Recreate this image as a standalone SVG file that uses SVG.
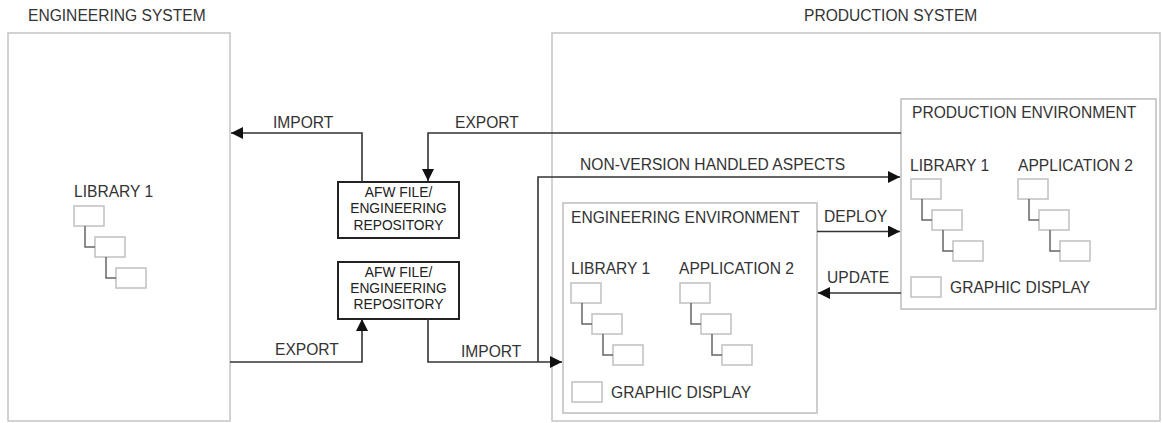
<svg xmlns="http://www.w3.org/2000/svg" width="1162" height="423" viewBox="0 0 1162 423">
<style>
text{font-family:"Liberation Sans",Arial,sans-serif;fill:#333;font-size:15.6px}
.small{font-size:13.8px;text-anchor:middle;fill:#222}
.frame{fill:none;stroke:#c4c4c4;stroke-width:1.5}
.env{fill:none;stroke:#bdbdbd;stroke-width:1.5}
.afw{fill:#fff;stroke:#222;stroke-width:2}
.sb{fill:#fff;stroke:#c0c0c0;stroke-width:1.5}
.tl{fill:none;stroke:#666;stroke-width:1.5}
.conn{fill:none;stroke:#333;stroke-width:1.6}
</style>
<defs>
<marker id="ah" viewBox="0 0 12 12" refX="12" refY="6" markerWidth="12" markerHeight="12" markerUnits="userSpaceOnUse" orient="auto">
<path d="M0,0 L12,6 L0,12 z" fill="#111"/>
</marker>
<g id="tree">
<rect class="sb" x="0" y="0" width="30" height="20"/>
<rect class="sb" x="21" y="31" width="30" height="20"/>
<rect class="sb" x="42" y="62" width="30" height="20"/>
<path class="tl" d="M11,20 V41 H21 M32,51 V72 H42"/>
</g>
</defs>
<g id="engineering-system">
<rect class="frame" x="8" y="33" width="222" height="388"/>
<text x="28" y="20.5">ENGINEERING SYSTEM</text>
<text x="74" y="196.5">LIBRARY 1</text>
<use href="#tree" x="74" y="206"/>
</g>
<g id="production-system">
<rect class="frame" x="552" y="33" width="608" height="388"/>
<text x="804" y="20.5">PRODUCTION SYSTEM</text>
</g>
<g id="production-environment">
<rect class="env" x="901" y="99" width="255" height="210" fill="#fff"/>
<text x="912" y="117.5">PRODUCTION ENVIRONMENT</text>
<text x="910" y="170.5">LIBRARY 1</text>
<text x="1018" y="170.5">APPLICATION 2</text>
<use href="#tree" x="911" y="179"/>
<use href="#tree" x="1018" y="179"/>
<rect class="sb" x="911" y="277" width="30" height="20"/>
<text x="950" y="292.5">GRAPHIC DISPLAY</text>
</g>
<g id="engineering-environment">
<rect class="env" x="563" y="203" width="254" height="210" fill="#fff"/>
<text x="571" y="222.5">ENGINEERING ENVIRONMENT</text>
<text x="571" y="273.5">LIBRARY 1</text>
<text x="679" y="273.5">APPLICATION 2</text>
<use href="#tree" x="571" y="283"/>
<use href="#tree" x="680" y="283"/>
<rect class="sb" x="572" y="382" width="30" height="20"/>
<text x="611" y="397.5">GRAPHIC DISPLAY</text>
</g>
<g id="afw-top">
<rect class="afw" x="338" y="182" width="121" height="56"/>
<text class="small" x="398.5" y="197">AFW FILE/</text>
<text class="small" x="398.5" y="213">ENGINEERING</text>
<text class="small" x="398.5" y="230">REPOSITORY</text>
</g>
<g id="afw-bottom">
<rect class="afw" x="338" y="262" width="121" height="57"/>
<text class="small" x="398.5" y="277">AFW FILE/</text>
<text class="small" x="398.5" y="293">ENGINEERING</text>
<text class="small" x="398.5" y="309">REPOSITORY</text>
</g>
<g id="connectors">
<path class="conn" d="M362,182 V133 H231" marker-end="url(#ah)"/>
<text x="273" y="127.5">IMPORT</text>
<path class="conn" d="M901,133 H428 V181" marker-end="url(#ah)"/>
<text x="455" y="127.5">EXPORT</text>
<path class="conn" d="M230,362 H362 V319" marker-end="url(#ah)"/>
<text x="275" y="354.5">EXPORT</text>
<path class="conn" d="M428,319 V362 H562" marker-end="url(#ah)"/>
<text x="461" y="357">IMPORT</text>
<path class="conn" d="M538,362 V177 H900" marker-end="url(#ah)"/>
<text x="580" y="169.5">NON-VERSION HANDLED ASPECTS</text>
<path class="conn" d="M817,231.5 H900" marker-end="url(#ah)"/>
<text x="824" y="221.5">DEPLOY</text>
<path class="conn" d="M901,293 H818" marker-end="url(#ah)"/>
<text x="827" y="282.5">UPDATE</text>
</g>
</svg>
